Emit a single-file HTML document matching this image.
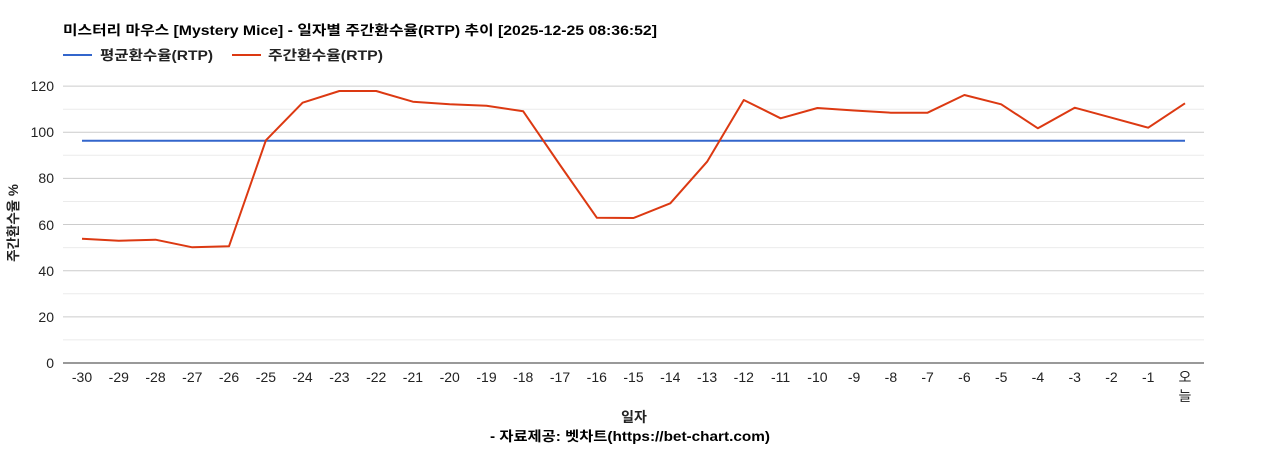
<!DOCTYPE html>
<html><head><meta charset="utf-8"><style>
html,body{margin:0;padding:0;background:#fff;}
svg{display:block;}
text{font-family:"Liberation Sans","Noto Sans CJK KR",sans-serif;}
</style></head><body>
<svg width="1268" height="450" viewBox="0 0 1268 450" xmlns="http://www.w3.org/2000/svg">
<rect width="1268" height="450" fill="#fff"/>
<text x="63" y="35" font-size="13.5" font-weight="bold" fill="#000" textLength="594" lengthAdjust="spacingAndGlyphs">미스터리 마우스 [Mystery Mice] - 일자별 주간환수율(RTP) 추이 [2025-12-25 08:36:52]</text>
<line x1="63" y1="55" x2="92" y2="55" stroke="#3366cc" stroke-width="2"/>
<text x="100" y="60" font-size="13.5" font-weight="bold" fill="#222" textLength="113" lengthAdjust="spacingAndGlyphs">평균환수율(RTP)</text>
<line x1="232" y1="55" x2="261" y2="55" stroke="#dc3912" stroke-width="2"/>
<text x="268" y="60" font-size="13.5" font-weight="bold" fill="#222" textLength="115" lengthAdjust="spacingAndGlyphs">주간환수율(RTP)</text>
<g stroke-width="1">
<line x1="63" x2="1204" y1="339.9" y2="339.9" stroke="#ebebeb"/>
<line x1="63" x2="1204" y1="293.8" y2="293.8" stroke="#ebebeb"/>
<line x1="63" x2="1204" y1="247.6" y2="247.6" stroke="#ebebeb"/>
<line x1="63" x2="1204" y1="201.5" y2="201.5" stroke="#ebebeb"/>
<line x1="63" x2="1204" y1="155.3" y2="155.3" stroke="#ebebeb"/>
<line x1="63" x2="1204" y1="109.2" y2="109.2" stroke="#ebebeb"/>
<line x1="63" x2="1204" y1="316.85" y2="316.85" stroke="#cccccc"/>
<line x1="63" x2="1204" y1="270.7" y2="270.7" stroke="#cccccc"/>
<line x1="63" x2="1204" y1="224.55" y2="224.55" stroke="#cccccc"/>
<line x1="63" x2="1204" y1="178.4" y2="178.4" stroke="#cccccc"/>
<line x1="63" x2="1204" y1="132.25" y2="132.25" stroke="#cccccc"/>
<line x1="63" x2="1204" y1="86.1" y2="86.1" stroke="#cccccc"/>
<line x1="63" x2="1204" y1="363" y2="363" stroke="#333333"/>
</g>
<g font-size="14" fill="#222" text-anchor="end">
<text x="54" y="368">0</text>
<text x="54" y="322">20</text>
<text x="54" y="276">40</text>
<text x="54" y="230">60</text>
<text x="54" y="183">80</text>
<text x="54" y="137">100</text>
<text x="54" y="91">120</text>
</g>
<text transform="translate(18,223) rotate(-90)" font-size="13.5" font-weight="bold" fill="#222" text-anchor="middle">주간환수율 %</text>
<line x1="82" y1="140.7" x2="1185" y2="140.7" stroke="#3366cc" stroke-width="2"/>
<polyline fill="none" stroke="#dc3912" stroke-width="2" stroke-linejoin="round" points="82,238.7 118.8,240.7 155.5,239.7 192.3,247.3 229,246.3 265.9,140.3 302.6,102.7 339.4,91 376.2,91 412.9,101.7 449.7,104.3 486.5,105.7 523.2,111.3 560,165 596.8,217.7 633.5,218 670.3,203.3 707.1,161.7 743.8,100 780.6,118.3 817.4,108 854.1,110.5 890.9,112.7 927.6,112.7 964.4,95 1001.2,104.3 1037.9,128.3 1074.7,107.7 1111.5,117.7 1148.2,127.7 1185,103.3"/>
<g font-size="14" fill="#222" text-anchor="middle">
<text x="82" y="382">-30</text>
<text x="118.8" y="382">-29</text>
<text x="155.5" y="382">-28</text>
<text x="192.3" y="382">-27</text>
<text x="229" y="382">-26</text>
<text x="265.9" y="382">-25</text>
<text x="302.6" y="382">-24</text>
<text x="339.4" y="382">-23</text>
<text x="376.2" y="382">-22</text>
<text x="412.9" y="382">-21</text>
<text x="449.7" y="382">-20</text>
<text x="486.5" y="382">-19</text>
<text x="523.2" y="382">-18</text>
<text x="560" y="382">-17</text>
<text x="596.8" y="382">-16</text>
<text x="633.5" y="382">-15</text>
<text x="670.3" y="382">-14</text>
<text x="707.1" y="382">-13</text>
<text x="743.8" y="382">-12</text>
<text x="780.6" y="382">-11</text>
<text x="817.4" y="382">-10</text>
<text x="854.1" y="382">-9</text>
<text x="890.9" y="382">-8</text>
<text x="927.6" y="382">-7</text>
<text x="964.4" y="382">-6</text>
<text x="1001.2" y="382">-5</text>
<text x="1037.9" y="382">-4</text>
<text x="1074.7" y="382">-3</text>
<text x="1111.5" y="382">-2</text>
<text x="1148.2" y="382">-1</text>
<text x="1185" y="382">오</text>
<text x="1185" y="401">늘</text>
</g>
<text x="634" y="422" font-size="14" font-weight="bold" fill="#222" text-anchor="middle">일자</text>
<text x="630" y="441" font-size="13.5" font-weight="bold" fill="#000" text-anchor="middle" textLength="280" lengthAdjust="spacingAndGlyphs">- 자료제공: 벳차트(https://bet-chart.com)</text>
</svg>
</body></html>
